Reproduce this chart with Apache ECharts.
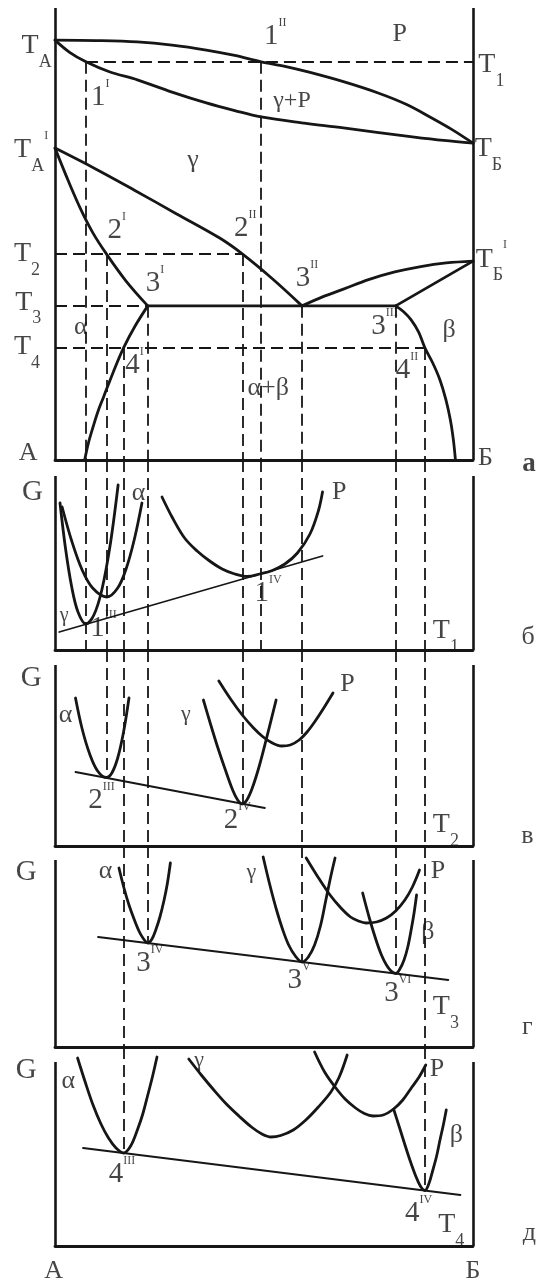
<!DOCTYPE html>
<html>
<head>
<meta charset="utf-8">
<script src="https://cdn.jsdelivr.net/npm/echarts@6/dist/echarts.min.js"></script>
<style>
  html, body { margin: 0; padding: 0; background: #fff; }
  #chart { width: 541px; height: 1287px; }
</style>
</head>
<body>
<div id="chart"></div>
<script>
// Phase diagram A–Б (temperature vs composition, %Б) and the Gibbs energy
// curves G(x) at T1, T2, T3, T4 drawn below it on the same composition axis.

// ---- phase diagram: boundaries as [composition, temperature] ----
const liquidus       = [[0, 92.9], [10, 92.8], [19.7, 92.5], [28, 91.8], [36.2, 90.7], [43, 89.5], [49.3, 88.1], [55, 87.1], [60.8, 85.8], [69, 83.7], [77.3, 81.2], [84, 78.7], [89.7, 75.9], [95, 73.1], [100, 70.1]];
const solidus        = [[0, 92.9], [3.5, 90.2], [7.4, 88.1], [13, 85.9], [19.7, 84.1], [28, 81.4], [36.2, 79.0], [43, 77.3], [49.3, 75.9], [59, 74.6], [69, 73.5], [77, 72.5], [85.5, 71.5], [93, 70.7], [100, 70.1]];
const gammaAlphaLeft = [[0, 69.0], [3.3, 61.5], [6.2, 55.4], [9.1, 50.2], [12.3, 45.6], [17, 39.6], [22.2, 34.1]];
const gammaAlphaRight= [[0, 69.0], [9.5, 64.5], [19, 59.7], [29, 54.5], [39.4, 49.1], [44.8, 45.6], [52, 40.1], [59.1, 34.1]];
const gammaBetaUpper = [[59.1, 34.1], [64, 36.1], [69, 37.8], [75, 39.9], [81.3, 41.6], [87.5, 42.8], [93.6, 43.6], [100, 44.0]];
const betaGammaLower = [[81.5, 34.1], [100, 44.0]];
const eutectoid      = [[22.2, 34.1], [81.5, 34.1]];
const alphaSolvus    = [[7.1, 0], [8.0, 3.8], [9.1, 7.3], [10.3, 10.8], [11.6, 13.9], [14, 19.6], [16.4, 24.8], [19.2, 29.7], [22.2, 34.1]];
const betaSolvus     = [[81.5, 34.1], [83.4, 32.8], [85.2, 31.0], [87, 28.3], [88.5, 24.8], [90.4, 21.4], [92.1, 17.7], [93.5, 13.4], [94.6, 8.8], [95.3, 4.5], [95.8, 0]];

// isotherms T1..T4 (dashed), as [fromX, toX, T]
const isotherms = [[7.4, 100, 88.1], [0, 44.8, 45.6], [0, 22.2, 34.1], [0, 88.5, 24.8]];

// vertical composition lines: x, starting temperature, panel and G where they end
const isoX       = [7.4, 12.3, 16.4, 22.2, 44.8, 49.3, 59.1, 81.5, 88.5];
const isoStartT  = [88.1, 45.6, 24.8, 34.1, 45.6, 88.1, 34.1, 34.1, 24.8];
const isoEndPane = [1, 2, 4, 3, 2, 1, 3, 3, 4];
const isoEndG    = [0, 6.85, 9.3, 10.4, 4.2, 0, 8.5, 7.35, 5.55];

// ---- G(x) at T1 ----
const bGamma   = [[1.2, 14.7], [2.5, 10.2], [4.0, 6.3], [5.5, 3.8], [7.4, 2.6], [9.3, 3.5], [11.2, 6.0], [13.2, 10.5], [15.1, 16.5]];
const bAlpha   = [[1.7, 14.3], [4.0, 10.9], [6.5, 8.0], [9.0, 6.2], [12.4, 5.3], [15.0, 6.2], [17.0, 8.1], [19.0, 11.1], [20.8, 14.7]];
const bLiquid  = [[25.6, 15.3], [28, 13.3], [31, 11.2], [34, 9.9], [37, 8.9], [40, 8.1], [43, 7.6], [46, 7.35], [49, 7.6], [52, 7.95], [55, 8.6], [58, 9.7], [61, 11.6], [63, 13.9], [64, 15.8]];
const bTangent = [[1.0, 1.8], [64.0, 9.4]];

// ---- G(x) at T2 ----
const vAlpha   = [[4.9, 14.8], [6.5, 11.7], [8.3, 9.2], [10.2, 7.5], [12.3, 6.85], [13.6, 7.3], [15.0, 8.8], [16.4, 11.4], [17.7, 14.8]];
const vGamma   = [[35.5, 14.6], [37.2, 12.2], [38.9, 9.9], [40.6, 7.8], [42.5, 5.6], [43.7, 4.6], [44.8, 4.2], [45.9, 4.6], [47.2, 5.8], [48.8, 7.9], [50.5, 10.6], [52.9, 14.6]];
const vLiquid  = [[39.2, 16.5], [42, 14.7], [44.8, 13.1], [47.5, 11.8], [49.8, 10.9], [52, 10.3], [54.2, 10.0], [56.3, 10.1], [58.4, 10.6], [60.3, 11.4], [62.1, 12.4], [64.3, 13.8], [66.5, 15.3]];
const vTangent = [[4.9, 7.4], [50.2, 3.8]];

// ---- G(x) at T3 ----
const gAlpha   = [[15.3, 17.9], [16.5, 15.9], [17.7, 14.2], [19, 12.7], [20.2, 11.5], [21.2, 10.8], [22.2, 10.4], [23.2, 10.8], [24.1, 11.7], [25.1, 13.0], [26.1, 14.7], [26.9, 16.4], [27.6, 18.4]];
const gGamma   = [[49.8, 19.0], [51.4, 16.2], [53.0, 13.7], [54.5, 11.7], [55.9, 10.2], [57.5, 9.1], [59.1, 8.5], [60.6, 9.0], [62.1, 10.2], [63.5, 12.1], [64.8, 14.7], [66.0, 17.1], [67.0, 18.9]];
const gLiquid  = [[60.1, 18.9], [62.9, 17.0], [65.8, 15.2], [68.2, 14.0], [70.7, 13.0], [72.6, 12.6], [74.4, 12.4], [76.9, 12.5], [79.3, 12.9], [81.5, 13.6], [83.7, 14.7], [85.5, 16.0], [87.2, 17.7]];
const gBeta    = [[73.6, 15.4], [75.2, 12.9], [76.8, 10.7], [78.1, 9.2], [79.3, 8.2], [80.4, 7.6], [81.5, 7.35], [82.5, 7.8], [83.5, 8.7], [84.4, 10.0], [85.2, 11.7], [85.9, 13.4], [86.5, 15.2]];
const gTangent = [[10.3, 11.0], [94.1, 6.7]];

// ---- G(x) at T4 ----
const dAlpha   = [[5.4, 18.8], [7.3, 16.3], [9.1, 14.1], [11.0, 12.2], [12.8, 10.8], [14.6, 9.8], [16.4, 9.3], [18.1, 10.0], [19.7, 11.6], [21.0, 13.2], [22.2, 15.1], [23.3, 16.9], [24.4, 18.9]];
const dGamma   = [[32, 18.7], [35, 17.1], [38, 15.6], [41, 14.2], [44, 13.0], [47, 11.9], [49.5, 11.2], [51.7, 10.9], [54, 11.05], [57, 11.6], [60, 12.6], [63, 13.9], [66, 15.4], [68, 16.9], [69.9, 19.1]];
const dLiquid  = [[62.1, 19.4], [64.5, 17.4], [67.0, 15.9], [69.4, 14.7], [71.9, 13.8], [74, 13.25], [76.1, 13.0], [78.5, 13.1], [81.0, 13.7], [83.2, 14.6], [85.4, 15.9], [87.1, 16.9], [88.7, 18.1]];
const dBeta    = [[81.0, 13.7], [82.3, 12.0], [83.5, 10.4], [84.9, 8.6], [86.2, 7.1], [87.4, 6.0], [88.5, 5.55], [89.5, 6.3], [90.4, 7.6], [91.3, 9.0], [92.1, 10.6], [92.9, 12.1], [93.6, 13.6]];
const dTangent = [[6.7, 9.8], [97, 5.1]];

// ---- text: [rich text, x, y, optional font size] ----
const mainLabels = [
  ['{m|T}{s|A}', -4.4, 91.4], ['{d|1}{u|II}', 52.7, 93.4], ['P', 82.5, 94.2], ['{m|T}{s|1}', 104.4, 87.2],
  ['{d|1}{u|I}', 10.8, 79.9], ['γ+P', 56.7, 79.6, 24], ['{m|T}{s|A}{u|I}', -5.7, 68.4], ['γ', 33, 66.4],
  ['{m|T}{s|Б}', 103.7, 68.6], ['{d|2}{u|I}', 14.8, 50.4], ['{d|2}{u|II}', 45.5, 50.9], ['{m|T}{s|2}', -6.7, 45.4],
  ['{d|3}{u|II}', 60.3, 39.8], ['{m|T}{s|Б}{u|I}', 104.4, 44.2], ['{m|T}{s|3}', -6.4, 34.7], ['{d|3}{u|I}', 23.9, 38.7],
  ['α', 6.2, 29.4], ['{m|T}{s|4}', -6.7, 24.8], ['{d|4}{u|I}', 19.0, 20.6], ['α+β', 51, 15.9],
  ['{d|3}{u|III}', 78.8, 29.2], ['β', 94.3, 28.8], ['{d|4}{u|II}', 84.2, 19.5],
  ['A', -6.4, 1.5], ['Б', 103, 0.5], ['{b|а}', 113.4, -1.0]
];
const bLabels = [
  ['{g|G}', -5.4, 15.8], ['α', 20, 15.7], ['P', 68, 15.8], ['γ', 2.2, 3.4, 20],
  ['{d|1}{u|III}', 11.6, 2.0], ['{d|1}{u|IV}', 51, 5.5], ['{m|T}{s|1}', 93.5, 1.8], ['б', 113.2, 1.3]
];
const vLabels = [
  ['{g|G}', -5.7, 16.8], ['α', 2.5, 13.1], ['γ', 31.3, 13.2, 22], ['P', 70, 16.2],
  ['{d|2}{u|III}', 11.1, 4.4], ['{d|2}{u|IV}', 43.6, 2.4], ['{m|T}{s|2}', 93.5, 2.0], ['в', 113, 1.0]
];
const gLabels = [
  ['{g|G}', -6.9, 17.5], ['α', 12.1, 17.6], ['γ', 47, 17.5, 22], ['P', 91.6, 17.6], ['β', 89.2, 11.5],
  ['{d|3}{u|IV}', 22.7, 8.2], ['{d|3}{u|V}', 58.4, 6.5], ['{d|3}{u|VI}', 82, 5.2], ['{m|T}{s|3}', 93.5, 3.9], ['г', 113, 2.0]
];
const dLabels = [
  ['{g|G}', -6.9, 17.6], ['α', 3.2, 16.5], ['γ', 34.5, 18.6, 22], ['P', 91.4, 17.7], ['β', 96, 11.1],
  ['{d|4}{u|III}', 16, 7.0], ['{d|4}{u|IV}', 87, 3.1], ['{m|T}{s|4}', 94.8, 2.0], ['д', 113.5, 1.3],
  ['A', -0.3, -2.5], ['Б', 100, -2.5]
];

// ---- layout of the five stacked plots ----
const SERIF = 'Liberation Serif';
const INK = '#161616';
const panelTop    = [8, 460, 650, 846, 1047];
const panelHeight = [452, 190, 196, 201, 199];
const panelMax    = [100, 19, 19.6, 20.1, 19.9];
const frameTop    = [100, 17.4, 18.1, 18.7, 18.4];

const RICH = {
  m: { fontFamily: SERIF, fontSize: 28, lineHeight: 28, padding: [9, 0, 11, 0], color: INK },
  d: { fontFamily: SERIF, fontSize: 29, lineHeight: 29, padding: [8, 0, 11, 0], color: INK },
  s: { fontFamily: SERIF, fontSize: 18, lineHeight: 18, padding: [30, 0, 0, 0], color: INK },
  u: { fontFamily: SERIF, fontSize: 12, lineHeight: 12, padding: [3, 0, 33, 0], color: INK },
  g: { fontFamily: SERIF, fontSize: 29, color: INK },
  b: { fontFamily: SERIF, fontSize: 27, fontWeight: 'bold', color: INK }
};

function curve(p, data, width, smooth) {
  return {
    type: 'line', xAxisIndex: p, yAxisIndex: p, data: data,
    smooth: smooth === undefined ? 0.35 : smooth, symbol: 'none', silent: true, z: 3,
    lineStyle: { color: INK, width: width, cap: 'round', join: 'round' }
  };
}
function segments(p, list, width, type) {
  return {
    type: 'lines', coordinateSystem: 'cartesian2d', xAxisIndex: p, yAxisIndex: p,
    silent: true, z: 2, polyline: false,
    data: list.map(c => ({ coords: c })),
    lineStyle: { color: INK, width: width, type: type || 'solid', opacity: 1 }
  };
}
function texts(p, list) {
  return {
    type: 'scatter', xAxisIndex: p, yAxisIndex: p, symbolSize: 0, clip: false, silent: true, z: 6,
    data: list.map(([t, x, y, fs]) => {
      const item = { name: t, value: [x, y] };
      if (fs) item.label = { fontSize: fs };
      return item;
    }),
    label: {
      show: true, position: 'inside', formatter: q => q.name,
      fontFamily: SERIF, fontSize: 26, color: INK, rich: RICH
    }
  };
}

const DASH = [12, 6];
const series = [];

// panel frames (side walls; the bottom is the x axis line)
for (let p = 0; p < 5; p++) {
  series.push(segments(p, [[[0, 0], [0, frameTop[p]]], [[100, 0], [100, frameTop[p]]]], 2.6));
}

// dashed verticals, split over the panels they cross
const vertPerPanel = [[], [], [], [], []];
isoX.forEach((x, i) => {
  for (let p = 0; p <= isoEndPane[i]; p++) {
    const top = p === 0 ? isoStartT[i] : panelMax[p];
    const bottom = p === isoEndPane[i] ? isoEndG[i] : 0;
    vertPerPanel[p].push([[x, top], [x, bottom]]);
  }
});
vertPerPanel.forEach((list, p) => series.push(segments(p, list, 1.8, DASH)));
series.push(segments(0, isotherms.map(([a, b, t]) => [[a, t], [b, t]]), 1.8, DASH));

// phase diagram boundaries
[liquidus, solidus, gammaAlphaLeft, gammaAlphaRight, gammaBetaUpper, alphaSolvus, betaSolvus]
  .forEach(d => series.push(curve(0, d, 2.8)));
series.push(curve(0, betaGammaLower, 2.8, false));
series.push(curve(0, eutectoid, 2.8, false));

// Gibbs energy curves and common tangents
[[1, [bGamma, bAlpha, bLiquid], bTangent],
 [2, [vAlpha, vGamma, vLiquid], vTangent],
 [3, [gAlpha, gGamma, gLiquid, gBeta], gTangent],
 [4, [dAlpha, dGamma, dLiquid, dBeta], dTangent]].forEach(([p, curves, tan]) => {
  curves.forEach(d => series.push(curve(p, d, 2.8)));
  series.push(curve(p, tan, 1.8, false));
});

[mainLabels, bLabels, vLabels, gLabels, dLabels].forEach((l, p) => series.push(texts(p, l)));

const chart = echarts.init(document.getElementById('chart'), null, { renderer: 'canvas' });
chart.setOption({
  backgroundColor: '#ffffff',
  animation: false,
  grid: panelTop.map((t, p) => ({ left: 55, width: 418, top: t, height: panelHeight[p] })),
  xAxis: panelTop.map((t, p) => ({
    gridIndex: p, type: 'value', min: 0, max: 100,
    axisLine: { show: true, lineStyle: { color: INK, width: 2.8 } },
    axisTick: { show: false }, axisLabel: { show: false }, splitLine: { show: false }
  })),
  yAxis: panelTop.map((t, p) => ({
    gridIndex: p, type: 'value', min: 0, max: panelMax[p], show: false, splitLine: { show: false }
  })),
  series: series
});
</script>
</body>
</html>
